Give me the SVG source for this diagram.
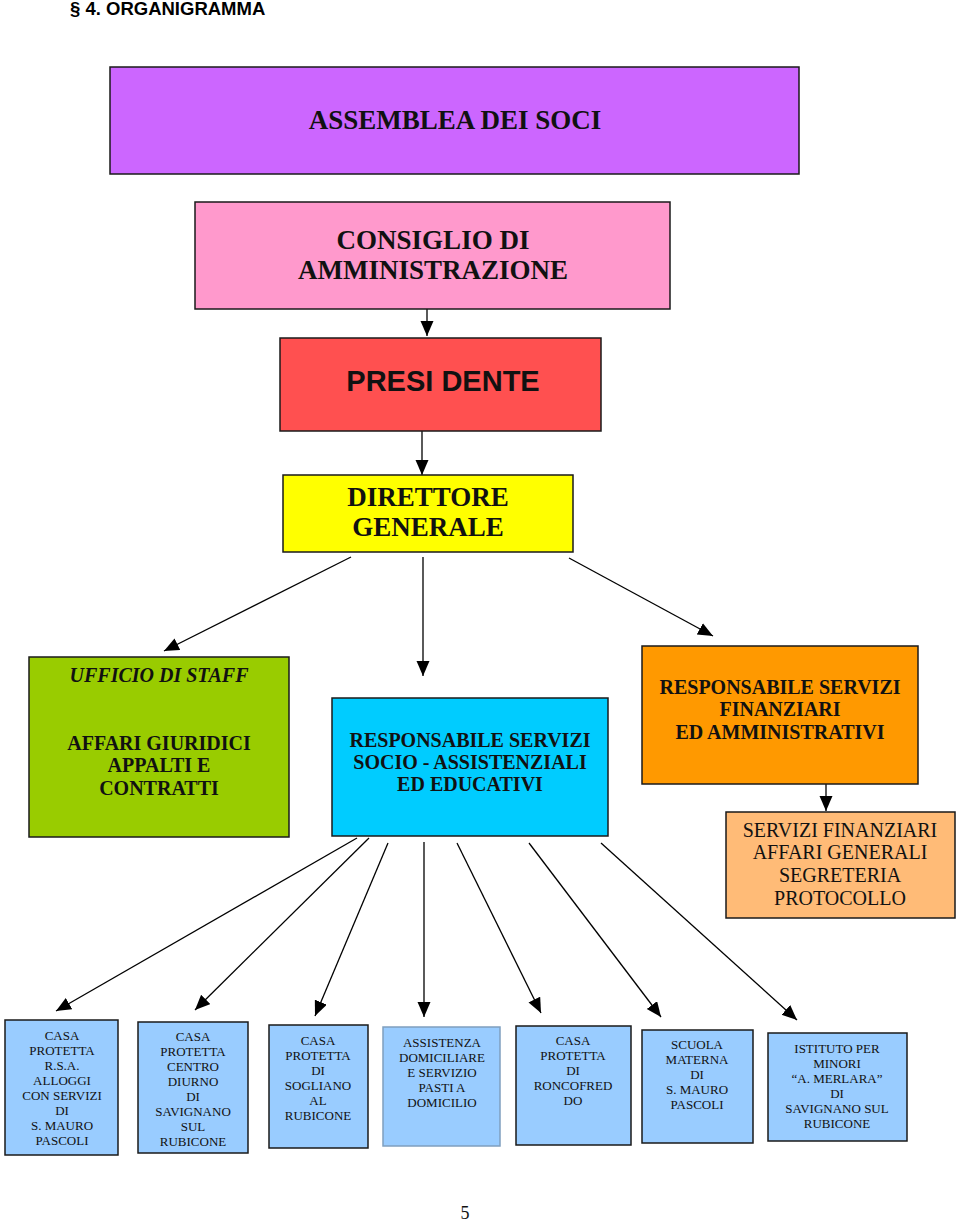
<svg xmlns="http://www.w3.org/2000/svg" width="960" height="1223" viewBox="0 0 960 1223">
<defs>
<style>
.box{stroke:#1a1a1a;stroke-width:1.5}
.t{font-family:"Liberation Serif","Times New Roman",serif;fill:#111;text-anchor:middle}
.b{font-weight:bold}
.big{font-size:27px}
.mid{font-size:20px}
.sm{font-size:13px}
.c line{stroke:#000;stroke-width:1.3;marker-end:url(#ah)}
</style>
<marker id="ah" markerUnits="userSpaceOnUse" markerWidth="16" markerHeight="14" refX="15" refY="6.5" orient="auto">
<path d="M0,0 L15,6.5 L0,13 z" fill="#000"/>
</marker>
</defs>
<rect width="960" height="1223" fill="#fff"/>
<text x="70" y="15" style="font-family:'Liberation Sans',Arial,sans-serif;font-weight:bold;font-size:18.5px;fill:#000">§ 4. ORGANIGRAMMA</text>

<g class="c" id="connectors">
<line x1="427" y1="304" x2="427" y2="336"/>
<line x1="422" y1="431" x2="422" y2="475"/>
<line x1="351" y1="557" x2="164" y2="651"/>
<line x1="423" y1="557" x2="423" y2="676"/>
<line x1="569" y1="558" x2="713" y2="636"/>
<line x1="826" y1="779" x2="826" y2="811"/>
<line x1="357" y1="838" x2="56" y2="1011"/>
<line x1="369" y1="838" x2="195" y2="1010"/>
<line x1="388" y1="843" x2="315" y2="1016"/>
<line x1="424" y1="842" x2="424" y2="1017"/>
<line x1="457" y1="843" x2="541" y2="1013"/>
<line x1="529" y1="843" x2="661" y2="1017"/>
<line x1="601" y1="843" x2="797" y2="1020"/>
</g>

<g id="assemblea">
<rect class="box" x="110" y="67" width="689" height="107" fill="#CC66FF"/>
<text class="t b big" x="455" y="129">ASSEMBLEA DEI SOCI</text>
</g>

<g id="consiglio">
<rect class="box" x="195" y="202" width="475" height="107" fill="#FF99CC"/>
<text class="t b big" x="433" y="249">CONSIGLIO DI</text>
<text class="t b big" x="433" y="279">AMMINISTRAZIONE</text>
</g>

<g id="presidente">
<rect class="box" x="280" y="338" width="321" height="93" fill="#FF5050"/>
<text x="443" y="391" style="font-family:'Liberation Sans',Arial,sans-serif;font-weight:bold;font-size:29px;fill:#111;text-anchor:middle">PRESI DENTE</text>
</g>

<g id="direttore">
<rect class="box" x="283" y="475" width="290" height="77" fill="#FFFF00"/>
<text class="t b big" x="428" y="506">DIRETTORE</text>
<text class="t b big" x="428" y="536">GENERALE</text>
</g>

<g id="ufficio">
<rect class="box" x="29" y="657" width="260" height="180" fill="#99CC00"/>
<text class="t b mid" x="159" y="682" font-style="italic">UFFICIO DI STAFF</text>
<text class="t b mid" x="159" y="750">AFFARI GIURIDICI</text>
<text class="t b mid" x="159" y="772">APPALTI E</text>
<text class="t b mid" x="159" y="795">CONTRATTI</text>
</g>

<g id="socio">
<rect class="box" x="332" y="698" width="276" height="138" fill="#00CCFF"/>
<text class="t b mid" x="470" y="747">RESPONSABILE SERVIZI</text>
<text class="t b mid" x="470" y="769">SOCIO - ASSISTENZIALI</text>
<text class="t b mid" x="470" y="791">ED EDUCATIVI</text>
</g>

<g id="finanziari">
<rect class="box" x="642" y="646" width="276" height="138" fill="#FF9900"/>
<text class="t b mid" x="780" y="694">RESPONSABILE SERVIZI</text>
<text class="t b mid" x="780" y="716">FINANZIARI</text>
<text class="t b mid" x="780" y="739">ED AMMINISTRATIVI</text>
</g>

<g id="servizi-finanziari">
<rect class="box" x="726" y="812" width="229" height="106" fill="#FFBB77"/>
<text class="t mid" x="840" y="837">SERVIZI FINANZIARI</text>
<text class="t mid" x="840" y="859">AFFARI GENERALI</text>
<text class="t mid" x="840" y="882">SEGRETERIA</text>
<text class="t mid" x="840" y="905">PROTOCOLLO</text>
</g>

<g id="cp-smauro">
<rect class="box" x="5" y="1020" width="113" height="135" fill="#99CCFF"/>
<text class="t sm" x="62" y="1040">CASA</text>
<text class="t sm" x="62" y="1055">PROTETTA</text>
<text class="t sm" x="62" y="1070">R.S.A.</text>
<text class="t sm" x="62" y="1085">ALLOGGI</text>
<text class="t sm" x="62" y="1100">CON SERVIZI</text>
<text class="t sm" x="62" y="1115">DI</text>
<text class="t sm" x="62" y="1130">S. MAURO</text>
<text class="t sm" x="62" y="1145">PASCOLI</text>
</g>

<g id="cp-savignano">
<rect class="box" x="138" y="1022" width="110" height="131" fill="#99CCFF"/>
<text class="t sm" x="193" y="1041">CASA</text>
<text class="t sm" x="193" y="1056">PROTETTA</text>
<text class="t sm" x="193" y="1071">CENTRO</text>
<text class="t sm" x="193" y="1086">DIURNO</text>
<text class="t sm" x="193" y="1101">DI</text>
<text class="t sm" x="193" y="1116">SAVIGNANO</text>
<text class="t sm" x="193" y="1131">SUL</text>
<text class="t sm" x="193" y="1146">RUBICONE</text>
</g>

<g id="cp-sogliano">
<rect class="box" x="269" y="1025" width="99" height="123" fill="#99CCFF"/>
<text class="t sm" x="318" y="1045">CASA</text>
<text class="t sm" x="318" y="1060">PROTETTA</text>
<text class="t sm" x="318" y="1075">DI</text>
<text class="t sm" x="318" y="1090">SOGLIANO</text>
<text class="t sm" x="318" y="1105">AL</text>
<text class="t sm" x="318" y="1120">RUBICONE</text>
</g>

<g id="assistenza">
<rect x="383" y="1027" width="117" height="119" fill="#99CCFF" stroke="#7f9fbf" stroke-width="1.5"/>
<text class="t sm" x="442" y="1047">ASSISTENZA</text>
<text class="t sm" x="442" y="1062">DOMICILIARE</text>
<text class="t sm" x="442" y="1077">E SERVIZIO</text>
<text class="t sm" x="442" y="1092">PASTI A</text>
<text class="t sm" x="442" y="1107">DOMICILIO</text>
</g>

<g id="cp-roncofreddo">
<rect class="box" x="516" y="1026" width="115" height="119" fill="#99CCFF"/>
<text class="t sm" x="573" y="1045">CASA</text>
<text class="t sm" x="573" y="1060">PROTETTA</text>
<text class="t sm" x="573" y="1075">DI</text>
<text class="t sm" x="573" y="1090">RONCOFRED</text>
<text class="t sm" x="573" y="1105">DO</text>
</g>

<g id="scuola">
<rect class="box" x="642" y="1030" width="111" height="113" fill="#99CCFF"/>
<text class="t sm" x="697" y="1049">SCUOLA</text>
<text class="t sm" x="697" y="1064">MATERNA</text>
<text class="t sm" x="697" y="1079">DI</text>
<text class="t sm" x="697" y="1094">S. MAURO</text>
<text class="t sm" x="697" y="1109">PASCOLI</text>
</g>

<g id="istituto">
<rect class="box" x="768" y="1033" width="139" height="108" fill="#99CCFF"/>
<text class="t sm" x="837" y="1053">ISTITUTO PER</text>
<text class="t sm" x="837" y="1068">MINORI</text>
<text class="t sm" x="837" y="1083">“A. MERLARA”</text>
<text class="t sm" x="837" y="1098">DI</text>
<text class="t sm" x="837" y="1113">SAVIGNANO SUL</text>
<text class="t sm" x="837" y="1128">RUBICONE</text>
</g>

<text class="t" x="465" y="1219" style="font-size:18px">5</text>
</svg>
